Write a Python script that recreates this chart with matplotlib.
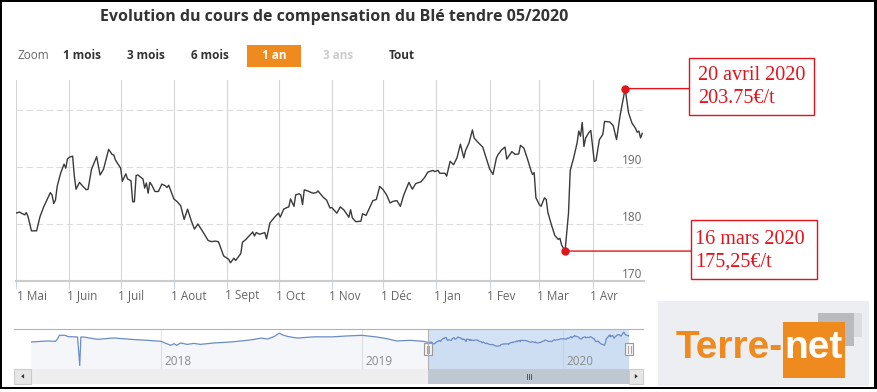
import datetime as dt

import matplotlib
matplotlib.use("Agg")
import matplotlib.pyplot as plt
import matplotlib.dates as mdates
import matplotlib.patches as patches
import matplotlib.transforms as transforms

# ---- data -------------------------------------------------------------
dates = [
    "2019-05-01", "2019-05-03", "2019-05-06", "2019-05-07", "2019-05-08", "2019-05-10", "2019-05-13",
    "2019-05-15", "2019-05-17", "2019-05-19", "2019-05-21", "2019-05-22", "2019-05-23", "2019-05-24",
    "2019-05-25", "2019-05-27", "2019-05-29", "2019-05-30", "2019-05-31", "2019-06-01", "2019-06-03",
    "2019-06-04", "2019-06-05", "2019-06-07", "2019-06-09", "2019-06-11", "2019-06-12", "2019-06-14",
    "2019-06-17", "2019-06-19", "2019-06-21", "2019-06-24", "2019-06-26", "2019-06-27", "2019-06-28",
    "2019-07-01", "2019-07-02", "2019-07-04", "2019-07-05", "2019-07-07", "2019-07-08", "2019-07-09",
    "2019-07-10", "2019-07-11", "2019-07-14", "2019-07-15", "2019-07-16", "2019-07-17", "2019-07-18",
    "2019-07-19", "2019-07-21", "2019-07-23", "2019-07-25", "2019-07-27", "2019-07-28", "2019-07-29",
    "2019-08-01", "2019-08-03", "2019-08-05", "2019-08-07", "2019-08-09", "2019-08-11", "2019-08-13",
    "2019-08-15", "2019-08-18", "2019-08-21", "2019-08-23", "2019-08-25", "2019-08-27", "2019-08-30",
    "2019-09-02", "2019-09-03", "2019-09-05", "2019-09-06", "2019-09-09", "2019-09-10", "2019-09-12",
    "2019-09-16", "2019-09-17", "2019-09-18", "2019-09-20", "2019-09-22", "2019-09-23", "2019-09-24",
    "2019-09-26", "2019-09-29", "2019-10-01", "2019-10-02", "2019-10-04", "2019-10-06", "2019-10-07",
    "2019-10-08", "2019-10-10", "2019-10-11", "2019-10-13", "2019-10-14", "2019-10-15", "2019-10-16",
    "2019-10-18", "2019-10-21", "2019-10-23", "2019-10-24", "2019-10-27", "2019-10-29", "2019-10-31",
    "2019-11-01", "2019-11-04", "2019-11-06", "2019-11-08", "2019-11-11", "2019-11-12", "2019-11-13",
    "2019-11-15", "2019-11-18", "2019-11-19", "2019-11-21", "2019-11-23", "2019-11-25", "2019-11-27",
    "2019-11-29", "2019-12-01", "2019-12-03", "2019-12-05", "2019-12-07", "2019-12-09", "2019-12-11",
    "2019-12-13", "2019-12-16", "2019-12-18", "2019-12-20", "2019-12-23", "2019-12-25", "2019-12-27",
    "2019-12-30", "2019-12-31", "2020-01-02", "2020-01-03", "2020-01-06", "2020-01-07", "2020-01-09",
    "2020-01-11", "2020-01-13", "2020-01-15", "2020-01-17", "2020-01-18", "2020-01-20", "2020-01-22",
    "2020-01-23", "2020-01-25", "2020-01-28", "2020-01-30", "2020-02-01", "2020-02-03", "2020-02-05",
    "2020-02-06", "2020-02-08", "2020-02-10", "2020-02-11", "2020-02-14", "2020-02-16", "2020-02-18",
    "2020-02-19", "2020-02-21", "2020-02-23", "2020-02-25", "2020-02-26", "2020-02-27", "2020-02-28",
    "2020-03-01", "2020-03-02", "2020-03-04", "2020-03-05", "2020-03-06", "2020-03-08", "2020-03-10",
    "2020-03-12", "2020-03-13", "2020-03-14", "2020-03-16", "2020-03-18", "2020-03-19", "2020-03-21",
    "2020-03-23", "2020-03-24", "2020-03-25", "2020-03-26", "2020-03-27", "2020-03-28", "2020-03-30",
    "2020-03-31", "2020-04-02", "2020-04-03", "2020-04-05", "2020-04-07", "2020-04-08", "2020-04-11",
    "2020-04-13", "2020-04-15", "2020-04-17", "2020-04-20", "2020-04-22", "2020-04-24", "2020-04-26",
    "2020-04-27", "2020-04-28", "2020-04-29", "2020-04-30",
]
prices = [
    181.9, 182.1, 181.6, 182.0, 181.3, 178.8, 178.8,
    181.3, 182.9, 184.2, 185.5, 185.1, 183.6, 184.2,
    186.6, 188.9, 190.5, 189.8, 191.4, 191.7, 191.9,
    188.4, 186.1, 187.3, 186.6, 186.0, 186.1, 189.6,
    191.8, 188.6, 189.6, 193.1, 192.2, 192.1, 191.2,
    189.8, 187.5, 188.8, 187.9, 187.6, 183.9, 183.9,
    188.5, 188.6, 187.9, 186.3, 187.2, 185.4, 187.3,
    186.9, 185.7, 185.7, 187.0, 186.7, 186.4, 186.8,
    184.4, 183.9, 183.2, 180.8, 182.6, 180.7, 179.1,
    180.0, 178.6, 177.1, 176.9, 177.0, 176.9, 174.4,
    173.8, 173.2, 174.0, 173.6, 174.8, 176.8, 177.3,
    178.6, 177.9, 178.5, 178.2, 178.4, 178.5, 177.4,
    180.2, 181.3, 181.9, 181.2, 182.6, 182.9, 183.0,
    184.4, 183.1, 185.1, 185.3, 185.1, 183.4, 186.0,
    185.8, 185.4, 185.5, 185.8, 184.7, 184.2, 182.8,
    182.9, 181.9, 183.0, 182.5, 181.2, 182.5, 181.1,
    180.4, 180.5, 181.8, 181.5, 182.8, 184.1, 184.3,
    186.6, 186.0, 185.1, 183.7, 184.0, 184.1, 183.1,
    185.1, 187.3, 186.1, 187.1, 187.4, 188.1, 189.1,
    189.4, 189.2, 189.4, 188.9, 188.9, 188.4, 191.0,
    190.4, 191.6, 194.0, 191.6, 192.9, 194.2, 196.5,
    195.1, 194.4, 193.5, 191.6, 189.7, 188.7, 191.6,
    192.2, 193.0, 193.5, 191.4, 192.7, 192.2, 192.3,
    193.8, 193.3, 191.5, 189.5, 188.7, 189.0, 184.6,
    183.4, 183.1, 184.6, 184.3, 182.0, 179.9, 178.0,
    177.3, 177.5, 176.3, 175.25, 181.9, 189.4, 191.6,
    194.2, 196.3, 195.4, 197.8, 193.6, 195.1, 196.1,
    196.4, 191.0, 191.1, 194.8, 195.7, 198.0, 197.9,
    197.3, 194.8, 198.9, 203.75, 199.5, 197.7, 196.8,
    196.1, 196.3, 195.1, 195.9,
]

# older history, only visible in the navigator
hist_dates = [
    "2017-05-10", "2017-06-08", "2017-06-24", "2017-06-28", "2017-07-01", "2017-07-11", "2017-07-17",
    "2017-08-03", "2017-08-07", "2017-08-09", "2017-08-15", "2017-09-08", "2017-10-08", "2017-11-07",
    "2017-12-07", "2018-01-01", "2018-01-19", "2018-01-25", "2018-01-30", "2018-02-06", "2018-02-18",
    "2018-03-02", "2018-03-14", "2018-04-07", "2018-05-08", "2018-06-07", "2018-06-20", "2018-07-02",
    "2018-07-14", "2018-07-26", "2018-08-04", "2018-08-10", "2018-08-19", "2018-08-28", "2018-09-06",
    "2018-10-06", "2018-11-08", "2018-12-04", "2019-01-01", "2019-01-28", "2019-02-15", "2019-03-05",
    "2019-03-29", "2019-04-22",
]
hist_prices = [
    182.4, 184.6, 184.0, 189.6, 196.9, 196.9, 194.0,
    193.2, 132.0, 193.2, 193.0, 188.2, 191.1, 188.2,
    186.1, 184.0, 175.3, 178.8, 175.3, 180.3, 177.3,
    179.4, 177.3, 180.3, 182.4, 186.1, 188.2, 190.9,
    188.9, 194.4, 201.5, 197.7, 194.4, 192.5, 190.9,
    193.6, 193.5, 195.4, 196.8, 193.2, 189.6, 184.6,
    186.1, 183.9,
]

month_labels = ["1 Mai", "1 Juin", "1 Juil", "1 Aout", "1 Sept", "1 Oct",
                "1 Nov", "1 Déc", "1 Jan", "1 Fev", "1 Mar", "1 Avr"]
y_labels = [170, 180, 190]
zoom_buttons = ["1 mois", "3 mois", "6 mois", "1 an", "3 ans", "Tout"]
year_labels = [2018, 2019, 2020]
notes = [("2020-04-20", 203.75, "20 avril 2020", "203.75€/t"),
         ("2020-03-16", 175.25, "16 mars 2020", "175,25€/t")]
title = "Evolution du cours de compensation du Blé tendre 05/2020"

# ---- helpers -----------------------------------------------------------
W, H = 878, 392
RED = "#e3131b"
ORANGE = "#ef8a1e"


def d(s):
    return mdates.date2num(dt.datetime.strptime(s, "%Y-%m-%d"))


def fx(x):
    return x / W


def fy(y):
    return 1 - y / H


def box(x0, y0, x1, y1, **kw):
    r = patches.Rectangle((fx(x0), fy(y1)), fx(x1) - fx(x0), fy(y0) - fy(y1),
                          transform=fig.transFigure, **kw)
    fig.add_artist(r)
    return r


def hline(x0, x1, y, **kw):
    fig.add_artist(plt.Line2D([fx(x0), fx(x1)], [fy(y), fy(y)], transform=fig.transFigure, **kw))


def vline(x, y0, y1, **kw):
    fig.add_artist(plt.Line2D([fx(x), fx(x)], [fy(y0), fy(y1)], transform=fig.transFigure, **kw))


plt.rcParams["font.family"] = ["Open Sans", "DejaVu Sans"]
fig = plt.figure(figsize=(W / 100, H / 100), dpi=100)
fig.patch.set_facecolor("white")

# ---- main chart --------------------------------------------------------
x = [d(s) for s in dates]
ax = fig.add_axes([fx(16), fy(281), fx(644) - fx(16), fy(80) - fy(281)])
ax.set_xlim(d("2019-05-01"), d("2020-05-01"))
ax.set_ylim(170, 205.26)
for s in ["top", "left", "right"]:
    ax.spines[s].set_visible(False)
ax.spines["bottom"].set_color("#cccccc")
ax.spines["bottom"].set_linewidth(1.5)

months = [d("%d-%02d-01" % (2019 + (4 + i) // 12, (4 + i) % 12 + 1)) for i in range(12)]
ax.set_xticks(months)
ax.set_xticklabels([])
ax.set_yticks([])
ax.tick_params(axis="x", length=6, color="#ccd6eb", width=0.8)
ax.grid(axis="x", color="#d6d6d6", lw=0.8)
for v in [180, 190, 200]:
    ax.axhline(v, color="#dcdcdc", lw=0.8, dashes=(6, 3), zorder=0)

ax.plot(x, prices, color="#3a3a3a", lw=1.0, zorder=3)

for i, (m, lbl) in enumerate(zip(months, month_labels)):
    ax.annotate(lbl, xy=(m, 0), xycoords=("data", "axes fraction"),
                xytext=(0.7 if i == 0 else -1.8, -10.8), textcoords="offset points",
                ha="left", va="center", fontsize=8.5, color="#666666")
for v in y_labels:
    ax.annotate(str(v), xy=(1, v), xycoords=("axes fraction", "data"),
                xytext=(-1, 4.7), textcoords="offset points",
                ha="right", va="center", fontsize=8.5, color="#666666")

# red callouts
boxes = [(689.3, 58, 814.3, 115, 697.7, 75, 98.3),
         (691, 220, 816.7, 279.3, 695, 240, 261.7)]
to_fig = transforms.blended_transform_factory(fig.transFigure, ax.transData)
for (ds, val, l1, l2), (bx0, by0, bx1, by1, tx, t1, t2) in zip(notes, boxes):
    ax.plot(d(ds), val, "o", color=RED, ms=5, zorder=5, clip_on=False)
    ax.annotate("", xy=(d(ds), val), xytext=(fx(bx0), val), textcoords=to_fig,
                arrowprops=dict(arrowstyle="-", color=RED, lw=1, shrinkA=0, shrinkB=0))
    box(bx0, by0, bx1, by1, fill=False, edgecolor=RED, lw=1)
    fig.text(fx(tx), fy(t1), l1, fontsize=14.5, family="Liberation Serif", color=RED, va="center")
    fig.text(fx(tx), fy(t2), l2, fontsize=14.5, family="Liberation Serif", color=RED, va="center")

# ---- title and zoom row -----------------------------------------------
fig.text(fx(334), fy(17), title, ha="center", va="center", fontsize=11.5,
         fontweight="bold", color="#333333")
fig.text(fx(17.3), fy(55.5), "Zoom", fontsize=8.5, color="#666666", va="center")
for i, b in enumerate(zoom_buttons):
    cx = 82 + 64 * i
    col = "#333333"
    if b == "1 an":
        box(cx - 27, 45, cx + 27, 66.7, color=ORANGE, lw=0)
        col = "white"
    elif b == "3 ans":
        col = "#cccccc"
    fig.text(fx(cx), fy(55.5), b, ha="center", va="center", fontsize=8.5,
             fontweight="bold", color=col)

# ---- navigator ---------------------------------------------------------
nx = [d(s) for s in hist_dates] + x
ny = hist_prices + prices
nav = fig.add_axes([fx(30.7), fy(368.7), fx(629.3) - fx(30.7), fy(329.3) - fy(368.7)])
nav.set_xlim(d("2017-05-10"), d("2020-04-30"))
nav.set_ylim(124.9, 209.8)
nav.set_axis_off()
nav.fill_between(nx, ny, 124.9, color="#335cad", alpha=0.05, lw=0)
nav.plot(nx, ny, color="#6a8cc4", lw=0.9)
for yr in year_labels:
    nav.axvline(d("%d-01-01" % yr), color="#e6e6e6", lw=0.8, zorder=0)
    nav.annotate(str(yr), xy=(d("%d-01-01" % yr), 0), xycoords=("data", "axes fraction"),
                 xytext=(2.5, 5.5), textcoords="offset points", ha="left", va="center",
                 fontsize=8.5, color="#8a8a8a")
sel0, sel1 = d("2019-05-01"), d("2020-04-30")
nav.axvspan(sel0, sel1, color="#a8c8ec", alpha=0.5, lw=0)

to_px = lambda v: fig.transFigure.inverted().transform(nav.transData.transform((v, 0)))[0] * W
px0, px1 = to_px(sel0), to_px(sel1)

hline(14, 643.3, 329.3, color="#b3b3b3", lw=0.8)
vline(px0, 329.3, 368.7, color="#b3b3b3", lw=0.8)

# scrollbar
box(30.7, 368.7, 629.3, 384, color="#eeeeee", lw=0)
box(px0, 368.7, px1, 384, color="#bfc8d1", lw=0)
gx = (px0 + px1) / 2
for k in (-2, 0, 2):
    vline(gx + k, 373.5, 379, color="#444444", lw=0.6)
for bx0, bx1, sgn in [(14.5, 30.7, -1), (629.3, 643.3, 1)]:
    box(bx0, 368.7, bx1, 384, facecolor="#e6e6e6", edgecolor="#cccccc", lw=0.8)
    c = (bx0 + bx1) / 2
    tri = patches.Polygon([(fx(c + 1.5 * sgn), fy(376.3)), (fx(c - 1.5 * sgn), fy(374)),
                           (fx(c - 1.5 * sgn), fy(378.6))], closed=True,
                          transform=fig.transFigure, color="#333333", lw=0)
    fig.add_artist(tri)

# handles
for hx in (px0, px1):
    box(hx - 4, 342.7, hx + 4, 355.3, facecolor="#f2f2f2", edgecolor="#999999", lw=0.8)
    for k in (-1.3, 1.3):
        vline(hx + k, 345.5, 352.5, color="#999999", lw=0.6)

# ---- Terre-net logo ----------------------------------------------------
box(658.3, 301, 869, 386, color="#eceef1", lw=0)
box(854, 312.7, 861.7, 336.7, color="#dcdde0", lw=0)
box(817.7, 312.7, 854, 346, color="#b8babd", lw=0)
box(782.7, 321.7, 845, 378.3, color=ORANGE, lw=0)
fig.text(fx(782.5), fy(358.3), "Terre-", fontsize=28, fontweight="bold", color=ORANGE,
         family="Liberation Sans", va="baseline", ha="right")
fig.text(fx(784.5), fy(358.3), "net", fontsize=28, fontweight="bold", color="white",
         family="Liberation Sans", va="baseline")

# ---- black frame -------------------------------------------------------
box(0, 0, 2, 389.3, color="black", lw=0)
box(0, 0, 878, 1.5, color="black", lw=0)
box(874, 0, 878, 389.3, color="black", lw=0)
box(0, 386.7, 878, 389.3, color="black", lw=0)

fig.savefig("out.png", dpi=100)
